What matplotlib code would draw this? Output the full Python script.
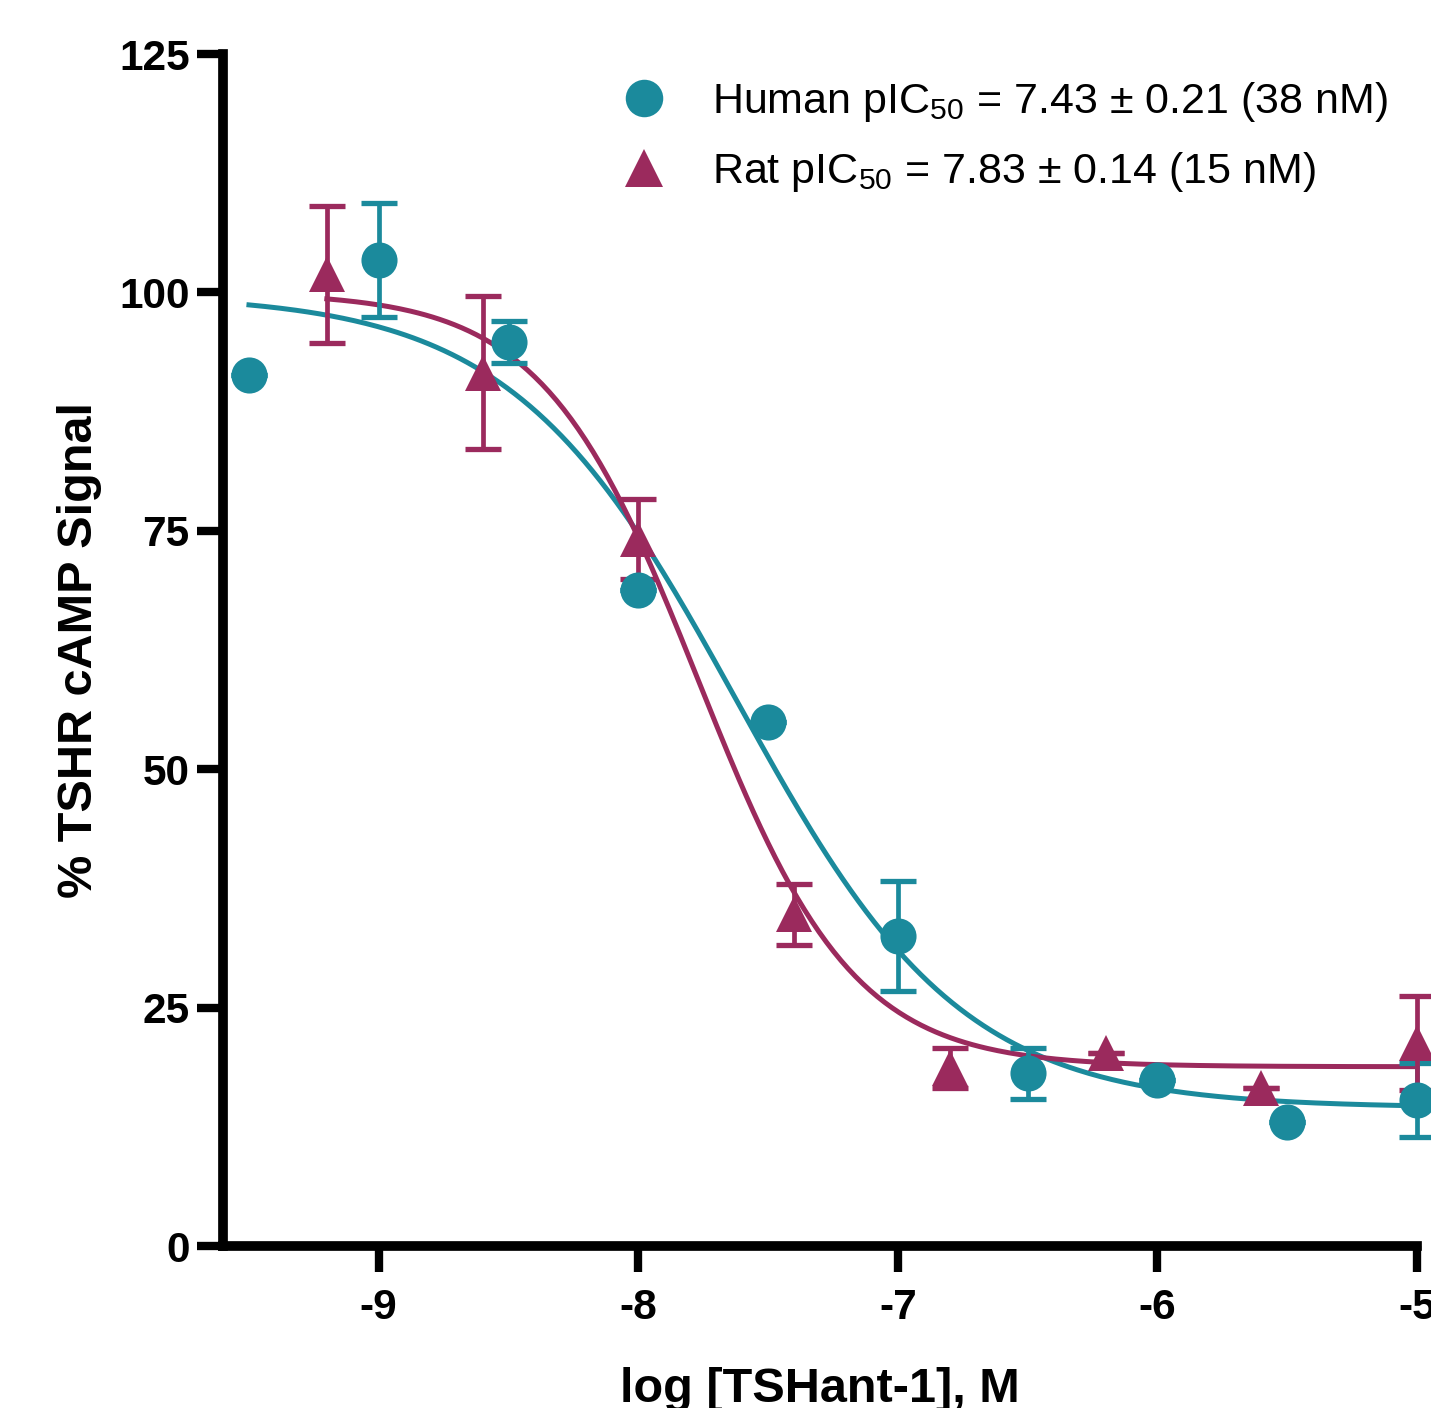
import matplotlib
matplotlib.use("Agg")
import matplotlib.pyplot as plt
import numpy as np
from matplotlib.lines import Line2D

plt.rcParams['font.family'] = ['Liberation Sans', 'DejaVu Sans']
plt.rcParams['mathtext.fontset'] = 'custom'
plt.rcParams['mathtext.rm'] = 'Liberation Sans'
plt.rcParams['axes.unicode_minus'] = False

teal = "#1b8a9c"
magenta = "#9b2a5d"

# data (log M, % signal, SEM)
human_x = [-9.5, -9.0, -8.5, -8.0, -7.5, -7.0, -6.5, -6.0, -5.5, -5.0]
human_y = [91.3, 103.4, 94.8, 68.8, 55.0, 32.5, 18.1, 17.4, 13.0, 15.3]
human_err = [0, 6.0, 2.2, 0, 0, 5.8, 2.7, 0, 0, 3.85]

rat_x = [-9.2, -8.6, -8.0, -7.4, -6.8, -6.2, -5.6, -5.0]
rat_y = [101.9, 91.6, 74.1, 34.8, 18.7, 20.2, 16.6, 21.3]
rat_err = [7.2, 8.0, 4.2, 3.2, 2.1, 0, 0, 4.9]

# 4PL fit parameters: top, bottom, logIC50, hill
human_fit = [99.8, 14.5, -7.62, 1.0]
rat_fit = [100.0, 18.8, -7.77, 1.45]

legend_labels = [r"Human pIC$_{\mathrm{50}}$ = 7.43 ± 0.21 (38 nM)",
                 r"Rat pIC$_{\mathrm{50}}$ = 7.83 ± 0.14 (15 nM)"]


def fourpl(x, top, bottom, logic50, hill):
    return bottom + (top - bottom) / (1 + 10 ** (hill * (x - logic50)))


fig = plt.figure(figsize=(14.31, 14.08), dpi=100)
ax = fig.add_axes([223 / 1431, 1 - 1246 / 1408, (1417 - 223) / 1431, (1246 - 54) / 1408])

xs = np.linspace(human_x[0], -5, 300)
ax.plot(xs, fourpl(xs, *human_fit), color=teal, lw=3.6, zorder=2, clip_on=False)
xs = np.linspace(rat_x[0], -5, 300)
ax.plot(xs, fourpl(xs, *rat_fit), color=magenta, lw=3.6, zorder=2, clip_on=False)

ax.errorbar(human_x, human_y, yerr=human_err, fmt='none', ecolor=teal, elinewidth=3.4,
            capsize=13, capthick=3.8, zorder=3, clip_on=False)
ax.errorbar(rat_x, rat_y, yerr=rat_err, fmt='none', ecolor=magenta, elinewidth=3.4,
            capsize=13, capthick=3.8, zorder=3, clip_on=False)
ax.plot(human_x, human_y, 'o', color=teal, ms=26, mew=0, zorder=4, clip_on=False)
ax.plot(rat_x, rat_y, '^', color=magenta, ms=26, mew=0, zorder=4, clip_on=False)

ax.set_xlim(-9.6, -5)
ax.set_ylim(0, 125)
ax.set_xticks([-9, -8, -7, -6, -5])
ax.set_yticks([0, 25, 50, 75, 100, 125])

for s in ['top', 'right']:
    ax.spines[s].set_visible(False)
for s in ['left', 'bottom']:
    ax.spines[s].set_linewidth(7)
ax.tick_params(axis='both', length=19, width=6, direction='out')
ax.tick_params(axis='y', pad=5)
ax.tick_params(axis='x', pad=11)
for lab in ax.get_xticklabels() + ax.get_yticklabels():
    lab.set_fontsize(30.5)
    lab.set_fontweight('bold')

ax.set_xlabel("log [TSHant-1], M", fontsize=35, fontweight='bold', labelpad=28)
ax.set_ylabel("% TSHR cAMP Signal", fontsize=35, fontweight='bold', labelpad=12)

handles = [Line2D([], [], ls='none', marker='o', color=teal, ms=27, mew=0),
           Line2D([], [], ls='none', marker='^', color=magenta, ms=27, mew=0)]
fig.legend(handles, legend_labels, loc='upper left', bbox_to_anchor=(610 / 1431, 1 - 80 / 1408),
           frameon=False, fontsize=31, handlelength=1.6, handletextpad=0.78,
           labelspacing=0.61, borderpad=0, borderaxespad=0)

fig.savefig("out.png", dpi=100)
